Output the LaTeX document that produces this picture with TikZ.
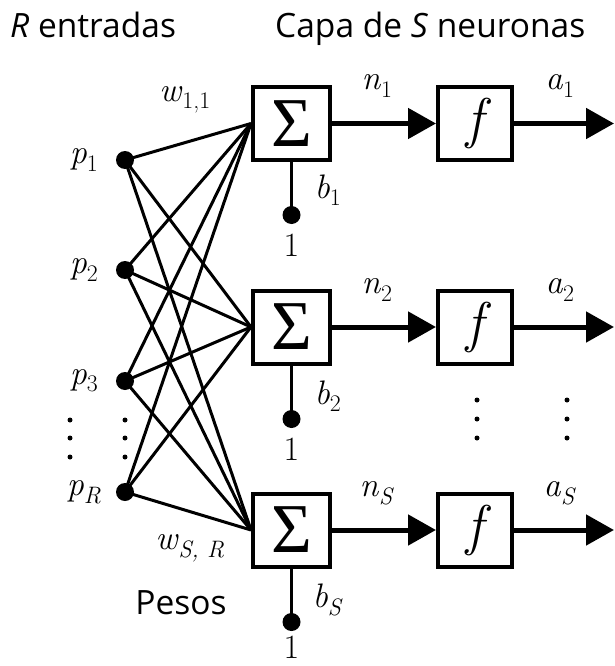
\documentclass[tikz,border=0pt]{standalone}
\usepackage{fontspec}
\newfontfamily\hdr{Open Sans}
\newfontfamily\sig{Liberation Serif}
\usetikzlibrary{arrows.meta}
\newcommand\lb[2]{\textit{#1}\textsubscript{#2}}
\begin{document}
\begin{tikzpicture}[x=1pt,y=-1pt,
  box/.style={draw,line width=4pt,inner sep=0pt,minimum height=73pt},
  sbox/.style={box,minimum width=77pt,font=\sig\fontsize{70}{70}\selectfont},
  fbox/.style={box,minimum width=74pt,font=\fontsize{56}{56}\selectfont\itshape},
  dot/.style={circle,fill,inner sep=0pt,minimum size=18pt},
  sdot/.style={circle,fill,inner sep=0pt,minimum size=5pt},
  conn/.style={line width=3pt},
  bias/.style={line width=3.5pt},
  arr/.style={line width=5pt,-{Triangle[length=28pt,width=30pt]}},
  lab/.style={font=\fontsize{34}{34}\selectfont,inner sep=0pt},
  head/.style={font=\hdr\fontsize{33.5}{33.5}\selectfont,inner sep=0pt,anchor=base west}]
\useasboundingbox (0,0) rectangle (614,666);
% headers
\node[head] (h1) at (10,38) {\textit{R} entradas};
\node[head] (h2) at (275,38) {Capa de \textit{S} neuronas};
% inputs
\node[dot] (p1) at (125,160) {};
\node[dot] (p2) at (125,270) {};
\node[dot] (p3) at (125,381) {};
\node[dot] (pR) at (125,492) {};
\node[lab] (lp1) at (84,160) {\lb{p}{1}};
\node[lab] (lp2) at (84,270) {\lb{p}{2}};
\node[lab] (lp3) at (84,381) {\lb{p}{3}};
\node[lab] (lpR) at (84,492) {\lb{p}{\textit{R}}};
% vertical dots (inputs)
\foreach \y [count=\i] in {420,438,457}{
  \node[sdot] (dl\i) at (70,\y) {};
  \node[sdot] (dr\i) at (125,\y) {};
}
% neurons
\foreach \r/\y in {1/123.5,2/327,3/530}{
  \node[sbox] (s\r) at (291.5,\y) {Σ};
  \node[fbox] (f\r) at (475,\y) {f};
  \coordinate (o\r) at (614,\y);
  \draw[arr] (s\r.east) -- (f\r.west);
  \draw[arr] (f\r.east) -- (o\r);
}
% connections
\foreach \p in {p1,p2,p3,pR}{
  \foreach \s in {s1,s2,s3}{
    \draw[conn] (\p.center) -- (\s.west);
  }
}
% biases
\node[dot] (bd1) at (291.5,215) {};
\node[dot] (bd2) at (291.5,419) {};
\node[dot] (bd3) at (291.5,622) {};
\draw[bias] (s1.south) -- (bd1.center);
\draw[bias] (s2.south) -- (bd2.center);
\draw[bias] (s3.south) -- (bd3.center);
\node[lab] (one1) at (291.5,245) {1};
\node[lab] (one2) at (291.5,449) {1};
\node[lab] (one3) at (291.5,647) {1};
\node[lab] (b1) at (328,190) {\lb{b}{1}};
\node[lab] (b2) at (328,396) {\lb{b}{2}};
\node[lab] (b3) at (328,600) {\lb{b}{\textit{S}}};
% n and a labels
\node[lab] (n1) at (377,86) {\lb{n}{1}};
\node[lab] (a1) at (560,86) {\lb{a}{1}};
\node[lab] (n2) at (377,290) {\lb{n}{2}};
\node[lab] (a2) at (560,290) {\lb{a}{2}};
\node[lab] (n3) at (377,493) {\lb{n}{\textit{S}}};
\node[lab] (a3) at (560,493) {\lb{a}{\textit{S}}};
% right vertical dots
\foreach \y [count=\i] in {400,419,438}{
  \node[sdot] (dfl\i) at (477,\y) {};
  \node[sdot] (dfr\i) at (567,\y) {};
}
% weights
\node[lab] (w11) at (185,100) {\lb{w}{1,1}};
\node[lab] (wSR) at (190,548) {\lb{w}{\textit{S, R}}};
\node[head,anchor=center] (pesos) at (181,603) {Pesos};
\end{tikzpicture}
\end{document}
